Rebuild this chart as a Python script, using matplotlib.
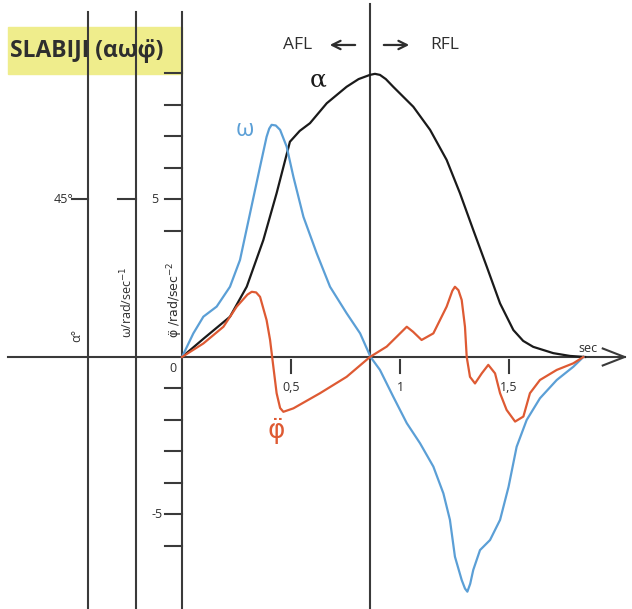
import numpy as np
import matplotlib.pyplot as plt
from matplotlib.patches import Rectangle

plt.rcParams['font.family'] = ['Open Sans', 'DejaVu Sans']

# alpha (degrees) over time (sec)
t_alpha = [0.0, 0.10, 0.22, 0.297, 0.373, 0.434, 0.495, 0.54, 0.587, 0.664, 0.755, 0.81,
           0.862, 0.885, 0.908, 0.935, 0.969, 1.061, 1.138, 1.214, 1.275, 1.336, 1.398,
           1.459, 1.520, 1.565, 1.611, 1.703, 1.78, 1.849]
alpha_deg = [0.0, 5.3, 11.5, 20.1, 33.4, 46.8, 61.5, 64.6, 66.8, 72.5, 77.2, 79.4,
             80.6, 80.9, 80.6, 79.4, 77.2, 71.5, 64.9, 56.3, 46.8, 36.3, 25.8,
             15.3, 7.7, 4.6, 2.9, 1.1, 0.3, 0.0]

# omega (rad/sec)
t_omega = [0.0, 0.052, 0.098, 0.159, 0.220, 0.266, 0.312, 0.358, 0.388, 0.40, 0.411,
           0.43, 0.450, 0.480, 0.511, 0.557, 0.618, 0.679, 0.755, 0.817, 0.865,
           0.908, 0.969, 1.031, 1.092, 1.153, 1.199, 1.229, 1.252, 1.283, 1.298, 1.309,
           1.322, 1.336, 1.367, 1.413, 1.459, 1.498, 1.535, 1.581, 1.642, 1.719, 1.795, 1.841]
omega = [0.0, 0.75, 1.28, 1.60, 2.23, 3.08, 4.56, 6.04, 6.99, 7.25, 7.37,
         7.35, 7.21, 6.68, 5.72, 4.45, 3.29, 2.23, 1.39, 0.75, 0.0,
         -0.41, -1.26, -2.10, -2.74, -3.48, -4.33, -5.17, -6.34, -7.08, -7.35, -7.45,
         -7.2, -6.76, -6.13, -5.81, -5.17, -4.12, -2.85, -2.0, -1.31, -0.73, -0.31, 0.0]

# angular acceleration phi'' (rad/sec^2)
t_phi = [0.0, 0.098, 0.190, 0.251, 0.300, 0.320, 0.340, 0.358, 0.388, 0.404, 0.419, 0.434,
         0.450, 0.465, 0.511, 0.633, 0.755, 0.862, 0.939, 1.031, 1.06, 1.099, 1.153, 1.214,
         1.240, 1.252, 1.268, 1.283, 1.298, 1.306, 1.321, 1.344, 1.375, 1.405, 1.436, 1.459,
         1.489, 1.528, 1.566, 1.596, 1.642, 1.719, 1.795, 1.841]
phi_dd = [0.0, 0.43, 0.96, 1.60, 1.98, 2.07, 2.05, 1.91, 1.17, 0.54, -0.31, -1.15,
          -1.62, -1.74, -1.63, -1.15, -0.63, 0.0, 0.33, 0.96, 0.8, 0.54, 0.75, 1.60,
          2.1, 2.23, 2.12, 1.81, 0.96, 0.0, -0.63, -0.84, -0.52, -0.25, -0.52, -1.15,
          -1.68, -2.05, -1.89, -1.15, -0.73, -0.41, -0.20, 0.0]

x_ticks = [0.5, 1.0, 1.5]
x_labels = ['0,5', '1', '1,5']
y_ticks = [-6, -5, -4, -3, -2, -1, 4, 5, 6, 7, 8, 9]

deg_scale = 5 / 45  # 45 deg sits at the same height as 5 units
t_split = 0.862     # AFL / RFL boundary

axis_c = '#3a3a3a'
txt_c = '#2e2e2e'
blue = '#5b9fd6'
red = '#de5a33'

fig = plt.figure(figsize=(6.32, 6.09), dpi=100)
ax = fig.add_axes([0, 0, 1, 1])
ax.set_xlim(-0.8349, 2.0642)
ax.set_ylim(-8.0, 11.333)
ax.axis('off')

# title box
ax.add_patch(Rectangle((-0.798, 8.98), 0.80, 1.5, color='#efed8c', zorder=0))
ax.text(-0.79, 9.71, 'SLABIJI (αωφ\u0308)', fontsize=16.5, fontweight='bold',
        color=txt_c, va='center', ha='left', zorder=3)

# axes lines
x_alpha, x_omega = -0.431, -0.211
for xv in [x_alpha, x_omega, 0.0]:
    ax.plot([xv, xv], [-8.0, 10.95], color=axis_c, lw=1.5, zorder=2)
ax.plot([t_split, t_split], [-8.0, 11.2], color=axis_c, lw=1.5, zorder=2)
ax.plot([-0.798, 2.03], [0, 0], color=axis_c, lw=1.5, zorder=2)
ax.plot([1.93, 2.03, 1.93], [0.27, 0, -0.27], color=axis_c, lw=1.5, zorder=2)

# ticks
tl = 0.078
for yv in y_ticks:
    ax.plot([-tl, 0], [yv, yv], color=axis_c, lw=1.5)
ax.plot([x_omega - 0.083, x_omega], [5, 5], color=axis_c, lw=1.5)
ax.plot([x_alpha - 0.073, x_alpha], [45 * deg_scale] * 2, color=axis_c, lw=1.5)
for xv, lab in zip(x_ticks, x_labels):
    ax.plot([xv, xv], [-0.1, -0.5], color=axis_c, lw=1.5)
    ax.text(xv, -0.98, lab, fontsize=9, ha='center', va='center', color=txt_c)

ax.text(-0.042, -0.35, '0', fontsize=9, ha='center', va='center', color=txt_c)
ax.text(-0.124, 5, '5', fontsize=9, ha='center', va='center', color=txt_c)
ax.text(-0.115, -5, '-5', fontsize=9, ha='center', va='center', color=txt_c)
ax.text(-0.5, 45 * deg_scale, '45°', fontsize=9, ha='right', va='center', color=txt_c)
ax.text(1.862, 0.27, 'sec', fontsize=9, ha='center', va='center', color=txt_c)

# axis names
ax.text(-0.482, 0.7, 'α°', fontsize=9, rotation=90, ha='center', va='center', color=txt_c)
ax.text(-0.252, 1.75, r'ω/rad/sec$^{-1}$', fontsize=9, rotation=90,
        ha='center', va='center', color=txt_c)
ax.text(-0.030, 1.81, 'φ\u0308 /rad/sec$^{-2}$', fontsize=9, rotation=90,
        family='DejaVu Sans', ha='center', va='center', color=txt_c)

# AFL / RFL
ax.text(0.532, 9.905, 'AFL', fontsize=12.5, ha='center', va='center', color=txt_c)
ax.text(1.206, 9.905, 'RFL', fontsize=12.5, ha='center', va='center', color=txt_c)
ax.annotate('', xy=(0.665, 9.905), xytext=(0.807, 9.905),
            arrowprops=dict(arrowstyle='->', color=txt_c, lw=1.6, mutation_scale=15))
ax.annotate('', xy=(1.055, 9.905), xytext=(0.913, 9.905),
            arrowprops=dict(arrowstyle='->', color=txt_c, lw=1.6, mutation_scale=15))

# curves
ax.plot(t_alpha, np.array(alpha_deg) * deg_scale, color='#1a1a1a', lw=1.6, zorder=4)
ax.plot(t_omega, omega, color=blue, lw=1.6, zorder=4)
ax.plot(t_phi, phi_dd, color=red, lw=1.6, zorder=4)

ax.text(0.624, 8.8, 'α', fontsize=18, family='DejaVu Serif', color='#1a1a1a',
        ha='center', va='center')
ax.text(0.289, 7.2, 'ω', fontsize=17, color=blue, ha='center', va='center')
ax.text(0.431, -2.35, 'φ\u0308', fontsize=19, family='DejaVu Sans', color=red,
        ha='center', va='center')

fig.savefig('out.png', dpi=100)
